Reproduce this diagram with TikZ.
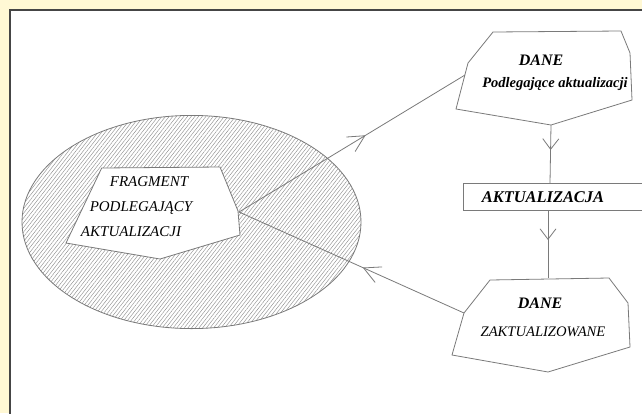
\documentclass[tikz,border=0pt]{standalone}
\usepackage{fontspec}
\setmainfont{Liberation Serif}
\usetikzlibrary{arrows.meta,decorations.markings,patterns.meta}

\definecolor{paper}{HTML}{FFF8D4}
\definecolor{frameclr}{HTML}{454545}
\definecolor{ink}{HTML}{7A7A7A}
\definecolor{hatch}{HTML}{8C8C8C}

\begin{document}
\begin{tikzpicture}[
  x=1pt, y=-1pt,
  outline/.style={draw=ink, line width=0.8pt},
  lbl/.style={inner sep=0pt, font=\itshape},
  blbl/.style={inner sep=0pt, font=\bfseries\itshape},
  flow/.style n args={3}{
    draw=ink, line width=0.8pt, postaction={decorate},
    decoration={markings, mark=at position #1 with
      {\arrow[ink]{Straight Barb[length=#2pt, width=#3pt]}}}
  }
]
\useasboundingbox (0,0) rectangle (642,413);
\fill[paper] (0,0) rectangle (642,413);
\fill[white] (10,10) rectangle (645,416);
\draw[frameclr, line width=2pt] (9.5,416) -- (9.5,9.5) -- (645,9.5);

% hatched area with the fragment
\draw[outline, pattern={Lines[angle=52, distance=2.9pt, line width=0.42pt]},
  pattern color=hatch] (191.5,222) ellipse [x radius=169.5pt, y radius=106.6pt];
\draw[outline, fill=white] (101.7,168) -- (220,167) -- (238,211) -- (240,235)
  -- (160,259) -- (66,243) -- cycle;
\node[lbl, font=\itshape\fontsize{15}{16}\selectfont] (frag1) at (149,182) {FRAGMENT};
\node[lbl, font=\itshape\fontsize{15}{16}\selectfont] (frag2) at (141,208) {PODLEGAJĄCY};
\node[lbl, font=\itshape\fontsize{15}{16}\selectfont] (frag3) at (131,232) {AKTUALIZACJI};

% data before update
\draw[outline, fill=white] (468,63) -- (493,32) -- (621,31) -- (630,53) -- (632,100)
  -- (551,125) -- (456,109) -- cycle;
\node[blbl, font=\bfseries\itshape\fontsize{16}{18}\selectfont] (dane1) at (541,60) {DANE};
\node[blbl, font=\bfseries\itshape\fontsize{14.5}{16}\selectfont] (dane1sub) at (555,84) {Podlegające aktualizacji};

% update step
\draw[outline] (463,183) rectangle (660,210);
\node[blbl, font=\bfseries\itshape\fontsize{16.4}{18}\selectfont] (akt) at (543,197) {AKTUALIZACJA};

% data after update
\draw[outline, fill=white] (464,313) -- (490,280) -- (609,278) -- (628,303) -- (630,347)
  -- (548,372) -- (452,355) -- cycle;
\node[blbl, font=\bfseries\itshape\fontsize{16}{18}\selectfont] (dane2) at (540,303) {DANE};
\node[lbl, font=\itshape\fontsize{14.6}{16}\selectfont] (dane2sub) at (543,332) {ZAKTUALIZOWANE};

\coordinate (frag-e) at (239,212);
\coordinate (dane1-w) at (465,75);
\coordinate (dane1-s) at (551,125);
\coordinate (akt-n) at (550,183);
\coordinate (akt-s) at (548,210);
\coordinate (dane2-n) at (548,278);
\coordinate (dane2-w) at (464,313);

\path[flow={0.56}{16.5}{17}] (frag-e) -- (dane1-w);
\path[flow={0.43}{10.5}{16}] (dane1-s) -- (akt-n);
\path[flow={0.44}{10.5}{16}] (akt-s) -- (dane2-n);
\path[flow={0.45}{16.5}{17}] (dane2-w) -- (frag-e);
\end{tikzpicture}
\end{document}
